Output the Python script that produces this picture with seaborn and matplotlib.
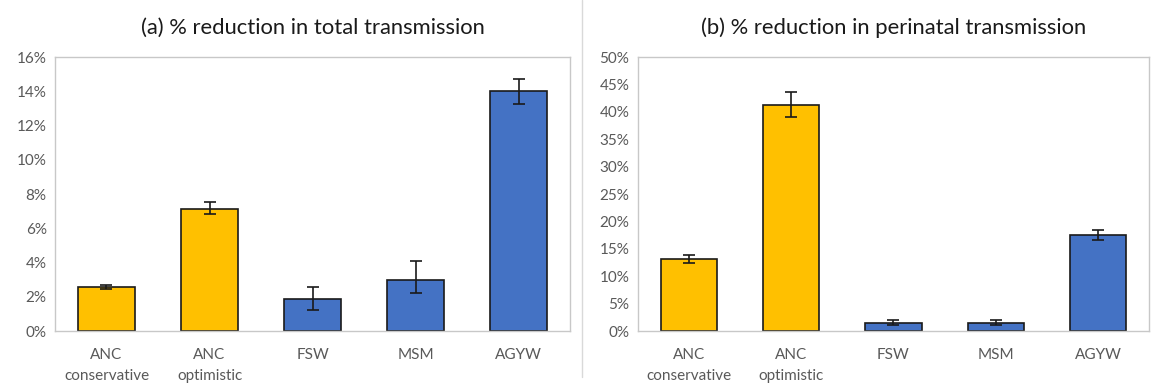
import matplotlib
matplotlib.use("Agg")
import matplotlib.pyplot as plt
import seaborn as sns
import pandas as pd
from matplotlib.lines import Line2D
from matplotlib.ticker import PercentFormatter

# groups and values (percent)
groups = ["ANC\nconservative", "ANC\noptimistic", "FSW", "MSM", "AGYW"]
bar_colors = ["#FFC000", "#FFC000", "#4472C4", "#4472C4", "#4472C4"]

total_red = [2.55, 7.15, 1.85, 3.0, 14.0]
total_lo = [2.45, 6.82, 1.25, 2.2, 13.26]
total_hi = [2.67, 7.52, 2.57, 4.07, 14.7]

peri_red = [13.2, 41.3, 1.5, 1.5, 17.5]
peri_lo = [12.4, 39.0, 1.15, 1.15, 16.6]
peri_hi = [13.9, 43.7, 1.95, 1.95, 18.5]


def draw_panel(ax, vals, lo, hi, title, ymax, step):
    df = pd.DataFrame({"group": groups, "value": vals})
    sns.barplot(data=df, x="group", y="value", hue="group", palette=bar_colors,
                saturation=1, width=0.55, edgecolor="#1a1a1a", linewidth=1.2,
                legend=False, ax=ax, errorbar=None)
    yerr = [[v - l for v, l in zip(vals, lo)], [h - v for v, h in zip(vals, hi)]]
    ax.errorbar(x=list(range(len(vals))), y=vals, yerr=yerr, fmt="none",
                ecolor="#1a1a1a", elinewidth=1.2, capsize=4, capthick=1.2)
    ax.set_xlim(-0.5, len(vals) - 0.5)
    ax.set_ylim(0, ymax)
    ax.set_yticks(range(0, ymax + 1, step))
    ax.yaxis.set_major_formatter(PercentFormatter(decimals=0))
    ax.set_xlabel("")
    ax.set_ylabel("")
    ax.set_title(title, fontsize=15.8, color="#1a1a1a", pad=17)
    ax.tick_params(axis="both", length=0, labelsize=11, colors="#595959", pad=6)
    ax.tick_params(axis="x", pad=12)
    for lab in ax.get_xticklabels():
        lab.set_linespacing(1.65)
    for s in ax.spines.values():
        s.set_visible(True)
        s.set_color("#C8C8C8")
        s.set_linewidth(1.0)
    ax.grid(False)


sns.set_style("white")
plt.rcParams["font.family"] = ["Lato", "DejaVu Sans"]

fig = plt.figure(figsize=(11.55, 3.89), dpi=100)
ax1 = fig.add_axes([0.0476, 0.149, 0.446, 0.704])
ax2 = fig.add_axes([0.552, 0.149, 0.443, 0.704])

draw_panel(ax1, total_red, total_lo, total_hi, "(a) % reduction in total transmission", 16, 2)
draw_panel(ax2, peri_red, peri_lo, peri_hi, "(b) % reduction in perinatal transmission", 50, 5)

# thin separator between the two panels
fig.add_artist(Line2D([0.504, 0.504], [0.03, 1.0], color="#D9D9D9", linewidth=1.0))

fig.savefig("out.png", dpi=100, facecolor="white")
